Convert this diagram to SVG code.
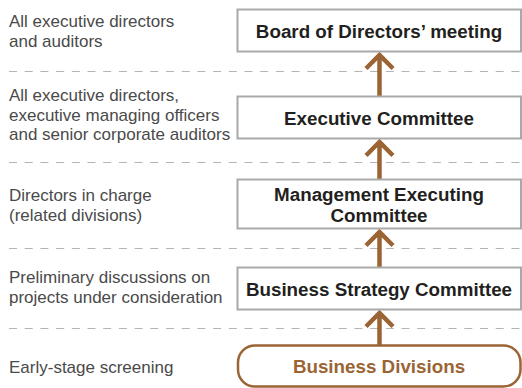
<svg xmlns="http://www.w3.org/2000/svg" width="522" height="388" viewBox="0 0 522 388">
<style>
.lbl{font-family:"Liberation Sans",Arial,sans-serif;font-size:17px;fill:#4a4a4a}
.bt{font-family:"Liberation Sans",Arial,sans-serif;font-size:18.8px;font-weight:bold;fill:#231f20;text-anchor:middle}
.box{fill:#fff;stroke:#a9a9a9;stroke-width:2}
.dash{stroke:#b4b4b4;stroke-width:1;stroke-dasharray:8 7.7;fill:none}
.arr{stroke:#9b6434;stroke-width:4.5;fill:none;stroke-linejoin:miter;stroke-miterlimit:10}
</style>
<rect width="522" height="388" fill="#fff"/>
<g id="separators">
<line class="dash" x1="9" y1="71.5" x2="522" y2="71.5"/>
<line class="dash" x1="9" y1="162.5" x2="522" y2="162.5"/>
<line class="dash" x1="9" y1="248.5" x2="522" y2="248.5"/>
<line class="dash" x1="9" y1="328.5" x2="522" y2="328.5"/>
</g>
<g id="labels">
<text class="lbl" x="9" y="27">All executive directors</text>
<text class="lbl" x="9" y="47">and auditors</text>
<text class="lbl" x="9" y="101">All executive directors,</text>
<text class="lbl" x="9" y="120.5">executive managing officers</text>
<text class="lbl" x="9" y="140">and senior corporate auditors</text>
<text class="lbl" x="9" y="201">Directors in charge</text>
<text class="lbl" x="9" y="221">(related divisions)</text>
<text class="lbl" x="9" y="283">Preliminary discussions on</text>
<text class="lbl" x="9" y="302.5">projects under consideration</text>
<text class="lbl" x="9" y="373">Early-stage screening</text>
</g>
<g id="connectors">
<path class="arr" d="M379.5,96 V55 M366,68.5 L379.5,55 L393,68.5"/>
<path class="arr" d="M379.5,179 V142 M366,155.5 L379.5,142 L393,155.5"/>
<path class="arr" d="M379.5,267 V232 M366,245.5 L379.5,232 L393,245.5"/>
<path class="arr" d="M379.5,345 V313 M366,326.5 L379.5,313 L393,326.5"/>
</g>
<g id="board">
<rect class="box" x="237.5" y="9.5" width="283.5" height="42"/>
<text class="bt" x="379" y="37.5">Board of Directors’ meeting</text>
</g>
<g id="executive">
<rect class="box" x="237.5" y="96.5" width="283.5" height="42"/>
<text class="bt" x="379" y="124.5">Executive Committee</text>
</g>
<g id="management">
<rect class="box" x="237.5" y="179.5" width="283.5" height="49"/>
<text class="bt" x="379" y="200.5">Management Executing</text>
<text class="bt" x="379" y="221.5">Committee</text>
</g>
<g id="strategy">
<rect class="box" x="237.5" y="267.5" width="283.5" height="42"/>
<text class="bt" x="379" y="295.5">Business Strategy Committee</text>
</g>
<g id="divisions">
<rect x="238" y="345.5" width="282.5" height="41" rx="17" fill="#fff" stroke="#9b6434" stroke-width="2.5"/>
<text class="bt" x="379" y="373" style="fill:#9b6434">Business Divisions</text>
</g>
</svg>
